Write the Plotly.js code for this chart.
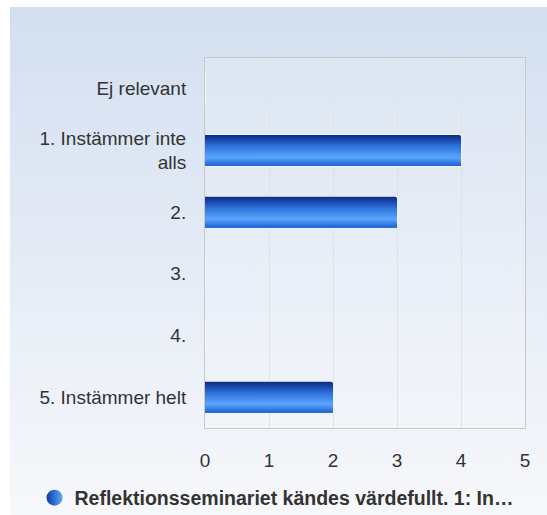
<!DOCTYPE html>
<html><head><meta charset="utf-8">
<script src="https://cdn.plot.ly/plotly-3.0.1.min.js"></script>
<style>
html,body{margin:0;padding:0;background:#fff;}
#bg{position:absolute;left:10px;top:7px;width:537px;height:508px;background:linear-gradient(to bottom,#d3dff0 0%,#e3eaf5 45%,#f7f8fb 100%);}
#chart{position:absolute;left:0;top:0;width:547px;height:515px;}
</style></head><body>
<div id="bg"></div><div id="chart"></div>
<script>
const categories = ["Ej relevant", "1. Instämmer inte<br>alls", "2.", "3.", "4.", "5. Instämmer helt"];
const values = [0, 4, 3, 0, 0, 2];
const xTicks = [0, 1, 2, 3, 4, 5];
const seriesName = "Reflektionsseminariet kändes värdefullt. 1: In…";

const stops = [[0,[10,42,133]],[0.35,[45,111,217]],[0.72,[90,166,255]],[1,[33,96,207]]];
function col(t){
  for(let i=0;i<stops.length-1;i++){
    const a=stops[i], b=stops[i+1];
    if(t<=b[0]){const f=(t-a[0])/(b[0]-a[0]);
      const c=a[1].map((v,k)=>Math.round(v+(b[1][k]-v)*f));
      return `rgb(${c[0]},${c[1]},${c[2]})`;}
  }
  return 'rgb(33,96,207)';
}
const N=24, W=0.5, sw=W/N;
const traces=[];
traces.push({type:'bar',orientation:'h',x:values,y:categories,width:W,offset:-W/2,
  marker:{color:'rgb(33,96,207)',line:{width:1.5,color:'rgba(255,255,255,0.85)'},cornerradius:3},showlegend:false,hoverinfo:'skip'});
for(let i=0;i<N;i++){
  traces.push({type:'bar',orientation:'h',x:values,y:categories,width:W-i*sw,offset:-W/2+i*sw,
    marker:{color:col((i+0.5)/N),line:{width:0},cornerradius:2},showlegend:false,hoverinfo:'skip'});
}
traces.push({type:'scatter',mode:'markers',x:[null],y:[null],name:seriesName,
  marker:{symbol:'circle',size:18,color:'#0d3a9e',gradient:{type:'horizontal',color:'#5aa6ff'},line:{width:0}},showlegend:true});

const layout={
  width:547,height:515,
  paper_bgcolor:'rgba(0,0,0,0)',plot_bgcolor:'rgba(255,255,255,0.15)',
  margin:{l:205,r:22,t:58,b:87},
  barmode:'overlay',
  font:{family:'Liberation Sans, Arial, sans-serif',color:'#333',size:19},
  xaxis:{range:[0,5],tickvals:xTicks,ticktext:xTicks.map(String),showgrid:true,gridcolor:'#dfe2e6',
    showline:true,mirror:true,linecolor:'#c8c8c8',linewidth:1,zeroline:false,ticks:'',ticklabelstandoff:15,
    tickfont:{size:19,color:'#333'},fixedrange:true},
  yaxis:{type:'category',autorange:'reversed',showgrid:false,showline:true,mirror:true,linecolor:'#c8c8c8',
    ticks:'',ticklabelstandoff:14,tickfont:{size:19,color:'#333'},fixedrange:true},
  legend:{orientation:'h',xref:'container',yref:'container',x:0.5055,xanchor:'center',y:0.033,yanchor:'middle',
    font:{size:19.5,color:'#333',weight:'bold'},bgcolor:'rgba(0,0,0,0)',itemwidth:30},
  showlegend:true
};
Plotly.newPlot('chart',traces,layout,{displayModeBar:false,staticPlot:true});
</script></body></html>
